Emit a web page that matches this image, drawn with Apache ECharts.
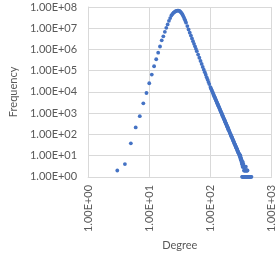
<!DOCTYPE html>
<html>
<head>
<meta charset="utf-8">
<script src="https://cdn.jsdelivr.net/npm/echarts@6/dist/echarts.min.js"></script>
<style>html,body{margin:0;padding:0;background:#fff}#c{width:277px;height:256px}</style>
</head>
<body>
<div id="c"></div>
<script>
var xTickLabels = ['1.00E+00','1.00E+01','1.00E+02','1.00E+03'];
var yTickLabels = ['1.00E+00','1.00E+01','1.00E+02','1.00E+03','1.00E+04','1.00E+05','1.00E+06','1.00E+07','1.00E+08'];
var xTitle = 'Degree';
var yTitle = 'Frequency';

var degrees = [
  3,4,5,6,7,8,9,10,11,12,13,14,15,16,17,18,19,20,21,22,23,24,25,26,27,28,29,30,
  31,32,33,34,35,36,37,38,39,40,
  42,44,46,48,50,52,54,56,58,60,
  63,66,69,72,75,78,81,84,87,90,93,96,
  100,102,104,106,108,110,112,114,116,118,120,122,124,126,128,130,132,134,136,138,
  140,142,144,146,148,150,152,154,156,158,160,162,164,166,168,170,172,174,176,178,
  180,182,184,186,188,190,192,194,196,198,200,
  203,206,209,212,215,218,221,224,227,230,233,236,239,242,245,248,251,254,257,260,
  263,266,269,272,275,278,281,284,287,290,
  295,298,300,303,305,308,310,312,315,318,320,323,326,328,331,334,337,340,343,346,
  350,355,358,362,366,370,375,380,386,392,398,405,
  330,336,342,348,354,360,367,374,381,389,397,405,414,423,432,441,450,460,470
];
var frequency = [
  2,4,38,214,724,2900,8900,25700,66000,162000,347000,708000,1380000,2690000,4170000,6760000,10500000,15100000,22400000,30200000,39800000,46800000,53700000,58900000,63100000,66100000,67600000,67600000,
  66100000,61700000,56200000,50100000,43700000,37200000,31600000,26300000,21900000,18200000,
  12600000,8700000,6200000,4500000,3300000,2450000,1850000,1400000,1070000,832000,
  575000,407000,288000,209000,151000,112000,85100,64600,49000,38000,29500,23400,
  17000,14900,13000,11500,10100,8930,7910,7020,6240,5560,4970,4440,3980,3570,3220,2900,2610,2360,2140,1940,
  1760,1600,1450,1320,1210,1100,1010,925,848,778,715,658,606,557,514,475,440,406,376,348,
  323,300,279,259,241,224,209,195,182,170,159,
  144,130,118,107,97,89,81,74,68,62,57,52,48,44,40,37,34,32,29,27,
  25,23,22,20,19,17,16,15,14,13,
  12,11,10,11,9,8,10,7,8,6,7,5,6,4,5,4,3,5,3,4,
  3,2,3,2,3,2,2,3,2,2,2,2,
  1,1,1,1,1,1,1,1,1,1,1,1,1,1,1,1,1,1,1
];

var points = degrees.map(function (d, i) { return [d, frequency[i]]; });
var FONT = 'Lato, "Liberation Sans", sans-serif';
var GRID = '#d9d9d9';
var chart = echarts.init(document.getElementById('c'), null, {renderer: 'canvas'});
chart.setOption({
  animation: false,
  backgroundColor: '#ffffff',
  grid: {left: 73.5, right: 5, top: 7, bottom: 68, containLabel: false},
  xAxis: {
    type: 'log', logBase: 10, min: 1, max: 1000, interval: 1,
    name: xTitle, nameLocation: 'middle', nameGap: 57,
    nameTextStyle: {color: '#595959', fontSize: 11, fontFamily: FONT},
    axisLine: {show: true, lineStyle: {color: GRID}},
    axisTick: {show: false},
    splitLine: {show: true, lineStyle: {color: GRID, width: 1}},
    minorTick: {show: false},
    axisLabel: {
      rotate: 90, color: '#595959', fontSize: 11, fontFamily: FONT, margin: 8,
      formatter: function (v) { return xTickLabels[Math.round(Math.log10(v))]; }
    }
  },
  yAxis: {
    type: 'log', logBase: 10, min: 1, max: 100000000, interval: 1,
    name: yTitle, nameLocation: 'middle', nameGap: 63, nameRotate: 90,
    nameTextStyle: {color: '#595959', fontSize: 11, fontFamily: FONT},
    axisLine: {show: true, lineStyle: {color: GRID}},
    axisTick: {show: false},
    splitLine: {show: true, lineStyle: {color: GRID, width: 1}},
    axisLabel: {
      color: '#595959', fontSize: 11, fontFamily: FONT, margin: 11,
      formatter: function (v) { return yTickLabels[Math.round(Math.log10(v))]; }
    }
  },
  series: [{
    type: 'scatter',
    data: points,
    symbol: 'circle',
    symbolSize: 3.8,
    itemStyle: {color: '#4472C4', opacity: 1},
    silent: true
  }]
});
</script>
</body>
</html>
